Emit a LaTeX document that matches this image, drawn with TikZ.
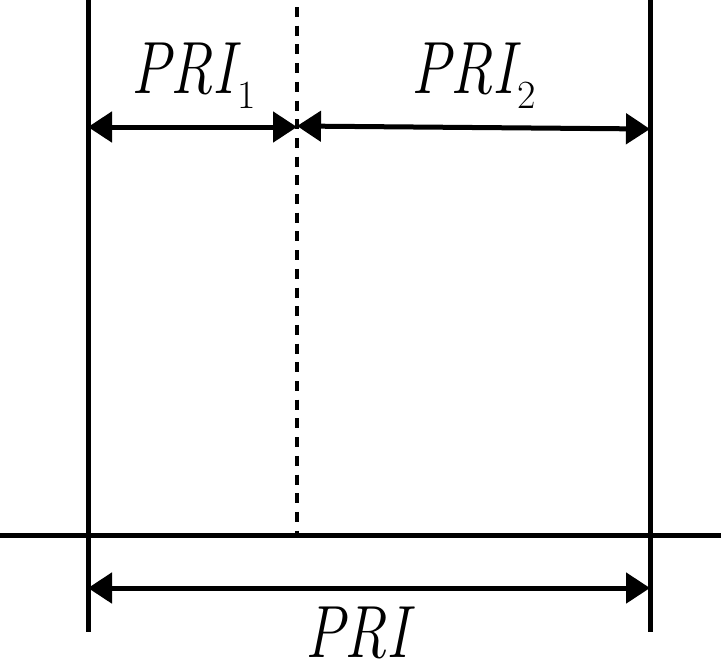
\documentclass[tikz,border=0pt]{standalone}
\usetikzlibrary{arrows.meta}
\tikzset{
every picture/.style={line width=2.5pt, x=0.5pt, y=-0.5pt},
%%%%%%%%%%  Line styles
boundary/.style={line width=2.5pt},
split/.style={line width=2pt, dash pattern=on 5pt off 4.35pt, dash phase=5.85pt},
dimarrow/.style={line width=2.5pt,
                 {Triangle[length=12pt,width=15pt]}-{Triangle[length=12pt,width=15pt]}},
%%%%%%%%%%  Label styles
interval/.style={inner sep=0pt, anchor=base west,
                 font=\fontsize{37}{40}\selectfont}
}
\newcommand{\prilabel}[1]{\scalebox{0.8}[1]{\itshape PRI}\kern1pt\raisebox{-7.5pt}{\upshape\fontsize{20}{20}\selectfont #1}}
\begin{document}
\begin{tikzpicture}
\useasboundingbox (0,0) rectangle (721,666);
%%pulse boundaries
\coordinate (lt) at (88,0);
\coordinate (lb) at (88,632);
\coordinate (rt) at (650,0);
\coordinate (rb) at (650,632);
\coordinate (mt) at (297,0);
\coordinate (mb) at (297,535);
\draw[boundary] (lt) -- (lb);
\draw[boundary] (rt) -- (rb);
\draw[split] (mt) -- (mb);
%%time axis
\coordinate (ax1) at (0,535);
\coordinate (ax2) at (721,535);
\draw[boundary] (ax1) -- (ax2);
%%interval arrows
\coordinate (a1) at (88,127);
\coordinate (a2) at (297,127);
\coordinate (b1) at (297,126);
\coordinate (b2) at (650,129);
\coordinate (c1) at (88,588);
\coordinate (c2) at (650,588);
\draw[dimarrow] (a1) -- (a2);
\draw[dimarrow] (b1) -- (b2);
\draw[dimarrow] (c1) -- (c2);
%%labels
\node[interval] (priA) at (129,93) {\prilabel{1}};
\node[interval] (priB) at (409,93) {\prilabel{2}};
\node[interval] (pri) at (303,657) {\prilabel{}};
\end{tikzpicture}
\end{document}
